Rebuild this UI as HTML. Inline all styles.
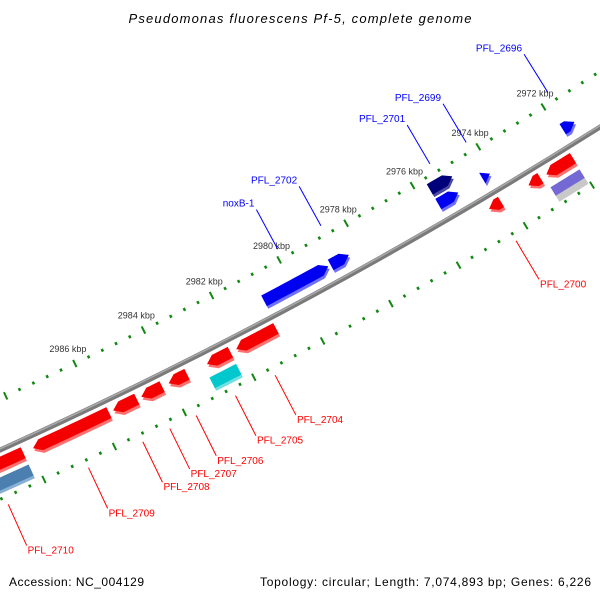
<!DOCTYPE html>
<html><head><meta charset="utf-8"><style>
html,body{margin:0;padding:0;background:#fff;width:600px;height:600px;overflow:hidden;}
svg{display:block;}
text{font-family:"Liberation Sans",sans-serif;}
</style></head><body>
<svg id="map" width="600" height="600" viewBox="0 0 600 600" xmlns="http://www.w3.org/2000/svg">
<rect width="600" height="600" fill="#fff"/>
<text x="300" y="23" text-anchor="middle" font-style="italic" font-size="13" textLength="343" fill="#000">Pseudomonas fluorescens Pf-5, complete genome</text>
<text x="9" y="586" font-size="12" textLength="135" fill="#000">Accession: NC_004129</text>
<text x="591" y="586" text-anchor="end" font-size="12" textLength="331" fill="#000">Topology: circular; Length: 7,074,893 bp; Genes: 6,226</text>
<g id="ticks"></g>
<g id="backbone"></g>
<g id="features"></g>
<g id="labels"></g>
</svg>
<script>
// ---- data ----
const featNames = ['PFL_2696','','PFL_2699','PFL_2701','PFL_2702','noxB-1','','PFL_2700','','','','PFL_2704','','PFL_2705','PFL_2706','PFL_2707','PFL_2708','PFL_2709','','PFL_2710','']; 
const featStart = [2971.52,2970.3,2974.10,2974.98,2978.34,2978.95,2972.06,2974.23,2973.04,2972.05,2970.3,2980.91,2982.24,2982.25,2983.50,2984.22,2984.95,2985.75,2988.2,2988.2,2975.06];
const featEnd   = [2971.88,2971.0,2974.33,2975.66,2978.88,2980.85,2972.94,2974.59,2973.40,2972.86,2971.0,2982.07,2982.92,2983.02,2984.03,2984.82,2985.63,2987.92,2989.6,2990.0,2975.66];
const featStrand= ['f','r','f','f','f','f','o','r','r','r','r','r','r','o','r','r','r','r','r','o','f'];
const featSlot  = [1,2,1,0,1,1,3,2,2,2,2,2,2,3,2,2,2,2,2,3,1];
const featColor = ['blue','red','blue','navy','blue','blue','purple','red','red','red','red','red','red','cyan','red','red','red','red','red','steel','blue'];
const majorTicks = [2970,2972,2974,2976,2978,2980,2982,2984,2986,2988,2990];
const tickLabels = ['','2972 kbp','2974 kbp','2976 kbp','2978 kbp','2980 kbp','2982 kbp','2984 kbp','2986 kbp','',''];

// ---- geometry ----
const NS='http://www.w3.org/2000/svg';
const C={x:-2011,y:-4004};
const deg=Math.PI/180;
const slotR=[4852,4869,4899,4918];
const R_BACK=4887, R_OUT=4840, R_IN=4932;
function ang(k){return (61.76+0.452*(k-2980))*deg;}
function pt(k,r){const a=ang(k);return [C.x+r*Math.cos(a),C.y+r*Math.sin(a)];}
function mk(tag,attrs,parent){const e=document.createElementNS(NS,tag);for(const a in attrs)e.setAttribute(a,attrs[a]);parent.appendChild(e);return e;}
const palette={blue:['#0000f0','#6f6fff'],red:['#f40000','#ff7070'],navy:['#00007a','#4a4aa0'],cyan:['#00c8cc','#70e0e0'],steel:['#4a7fb0','#88b0d4'],purple:['#7468d4','#c8c8c8']};

// ticks
const tg=document.getElementById('ticks');
for(let i=0;i<=60;i++){
  const k=2968+i*0.4;
  const major=(i%5===0);
  [R_OUT,R_IN].forEach(r=>{
    const d=major?4:1.5;
    const a=pt(k,r-d),b=pt(k,r+d);
    const l=mk('line',{x1:a[0],y1:a[1],x2:b[0],y2:b[1],stroke:'#118811','stroke-width':major?2:2.5},tg);
    
    
  });
}
majorTicks.forEach((k,i)=>{
  if(!tickLabels[i])return;
  const p=pt(k,R_OUT-16);
  const t=mk('text',{x:p[0],y:p[1]+3,'text-anchor':'middle','font-size':'9',fill:'#333'},tg);
  t.textContent=tickLabels[i];
  
  
});

// backbone
const bg=document.getElementById('backbone');
const b1=mk('circle',{cx:C.x,cy:C.y,r:R_BACK,fill:'none',stroke:'#7a7a7a','stroke-width':5},bg);


const b2=mk('circle',{cx:C.x,cy:C.y,r:R_BACK-1.2,fill:'none',stroke:'#a8a8a8','stroke-width':1.5},bg);



// features
function shape(s,e,rc,h,dir){
  const pts=[];const head=Math.min(0.22,e-s);const N=10;
  const arc=(a,b,r)=>{for(let j=0;j<=N;j++){pts.push(pt(a+(b-a)*j/N,r));}};
  if(dir===0){arc(s,e,rc-h);arc(e,s,rc+h);}
  else if(dir===-1){pts.push(pt(s,rc));arc(s+head,e,rc-h);arc(e,s+head,rc+h);}
  else {arc(s,e-head,rc-h);pts.push(pt(e,rc));arc(e-head,s,rc+h);}
  return pts.map(p=>p[0].toFixed(2)+','+p[1].toFixed(2)).join(' ');
}
const fg=document.getElementById('features');
const lg=document.getElementById('labels');
for(let i=0;i<featStart.length;i++){
  const s=featStart[i],e=featEnd[i],rc=slotR[featSlot[i]];
  const dir=featStrand[i]==='f'?-1:(featStrand[i]==='r'?1:0);
  const col=palette[featColor[i]];
  const isP=featColor[i]==='purple';
  const g=mk('g',{},fg);
  
  
  const sh=mk('polygon',{points:shape(s,e,rc+(isP?5:3),6,dir),fill:col[1]},g);
  
  
  const mn=mk('polygon',{points:shape(s,e,rc-(isP?1:0),isP?5:6,dir),fill:col[0]},g);
  
  
  if(featNames[i]){
    const k=(s+e)/2;
    const blue=featSlot[i]<2;
    const r0=blue?4830:4940, r1=blue?4785:4985;
    const a=pt(k,r0),b=pt(k,r1);
    const ln=mk('line',{x1:a[0],y1:a[1],x2:b[0],y2:b[1],stroke:blue?'#0000ff':'#ff0000','stroke-width':1},lg);
    
    
    const t=mk('text',{'font-size':'10',fill:blue?'#0000ff':'#ff0000'},lg);
    if(blue){t.setAttribute('x',b[0]-2);t.setAttribute('y',b[1]-3);t.setAttribute('text-anchor','end');}
    else{t.setAttribute('x',b[0]+1);t.setAttribute('y',b[1]+8);}
    t.textContent=featNames[i];
    
    
  }
}
</script>
</body></html>
